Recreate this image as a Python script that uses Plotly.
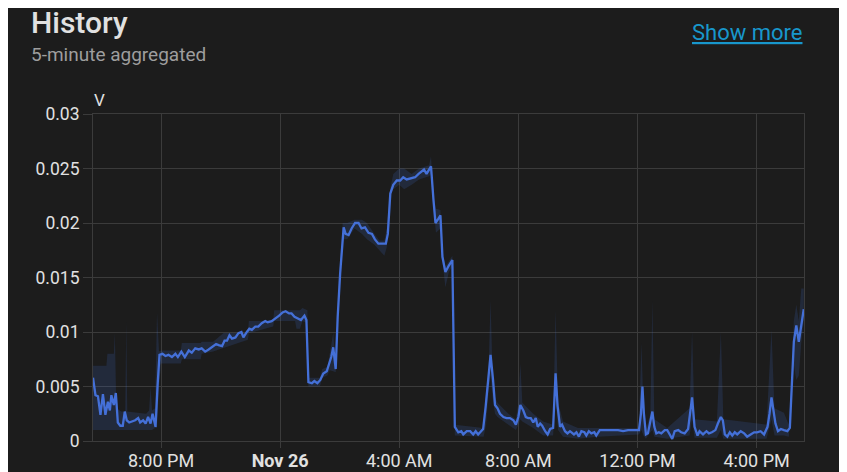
import plotly.graph_objects as go

# ---------------- data ----------------
D1 = "2024-11-25 "
D2 = "2024-11-26 "
times_day1 = ["17:43","17:48","17:53","17:58","18:03","18:08","18:13","18:17","18:20","18:25","18:29","18:33",
              "18:38","18:43","18:47","18:51","18:56","19:02","19:08","19:14","19:18","19:24","19:29","19:34",
              "19:39","19:43","19:49","19:53","19:57","20:03","20:09","20:15","20:22","20:29","20:34","20:41",
              "20:48","20:56","21:02","21:09","21:16","21:22","21:29","21:36","21:43","21:51","21:56","22:03",
              "22:08","22:13","22:18","22:23","22:30","22:36","22:42","22:46","22:53","22:58","23:03","23:10",
              "23:16","23:23","23:30","23:35","23:43","23:50","23:58"]
values_day1 = [0.0058,0.0042,0.0041,0.0024,0.0043,0.0024,0.0036,0.0028,0.0042,0.0033,0.0044,0.0017,
               0.0014,0.0014,0.0027,0.0019,0.0017,0.0018,0.0019,0.0021,0.0017,0.0019,0.0016,0.0022,
               0.0016,0.0025,0.0013,0.0050,0.0079,0.0080,0.0078,0.0079,0.0077,0.0080,0.0077,0.0082,
               0.0077,0.0083,0.0081,0.0085,0.0084,0.0085,0.0082,0.0084,0.0086,0.0089,0.0088,0.0087,
               0.0092,0.0092,0.0097,0.0094,0.0095,0.0099,0.0100,0.0095,0.0100,0.0103,0.0102,0.0105,
               0.0105,0.0108,0.0110,0.0109,0.0110,0.0112,0.0115]
times_day2 = ["00:05","00:11","00:18","00:23","00:29","00:36","00:42","00:49","00:53","00:57","01:04","01:09",
              "01:15","01:21","01:27","01:34","01:38","01:43","01:47","01:52","01:56","02:01","02:08","02:12",
              "02:18","02:24","02:31","02:38","02:44","02:51","02:58","03:05","03:11","03:18","03:25","03:33",
              "03:37","03:42","03:48","03:55","04:02","04:08","04:15","04:24","04:32","04:39","04:45","04:50",
              "04:55","05:00","05:04","05:09","05:13","05:19","05:23","05:27","05:33","05:40","05:47","05:52",
              "05:59","06:05","06:09","06:16","06:23","06:29","06:34","06:39","06:45","06:49","06:54","06:59",
              "07:04","07:09","07:13","07:18","07:23","07:30","07:36","07:43","07:50","07:55","08:00","08:04",
              "08:10","08:15","08:20","08:25","08:30","08:35","08:39","08:44","08:48","08:54","08:59","09:04",
              "09:10","09:15","09:19","09:24","09:28","09:34","09:39","09:44","09:52","09:57","10:02","10:07",
              "10:13","10:17","10:22","10:27","10:33","10:37","10:44","10:54","11:08","11:21","11:31","11:41",
              "11:55","12:03","12:07","12:10","12:13","12:17","12:21","12:26","12:30","12:34","12:38","12:43",
              "12:48","12:55","13:00","13:05","13:10","13:15","13:22","13:28","13:35","13:42","13:46","13:50",
              "13:55","14:01","14:05","14:12","14:19","14:24","14:30","14:37","14:42","14:48","14:52","14:56",
              "15:01","15:06","15:11","15:16","15:21","15:28","15:35","15:41","15:48","15:55","16:01","16:08",
              "16:15","16:22","16:26","16:30","16:34","16:38","16:43","16:49","16:55","17:02","17:07","17:11",
              "17:15","17:20","17:25","17:30","17:35"]
values_day2 = [0.0118,0.0119,0.0117,0.0117,0.0114,0.0112,0.0111,0.0115,0.0111,0.0054,0.0053,0.0055,
               0.0053,0.0056,0.0062,0.0064,0.0070,0.0077,0.0086,0.0066,0.0114,0.0154,0.0196,0.0190,
               0.0189,0.0195,0.0200,0.0200,0.0195,0.0196,0.0191,0.0190,0.0185,0.0181,0.0181,0.0181,
               0.0190,0.0227,0.0235,0.0239,0.0239,0.0242,0.0240,0.0241,0.0242,0.0245,0.0247,0.0249,
               0.0245,0.0249,0.0252,0.0221,0.0200,0.0204,0.0207,0.0169,0.0155,0.0161,0.0166,0.0013,
               0.0008,0.0009,0.0006,0.0009,0.0009,0.0006,0.0009,0.0006,0.0009,0.0011,0.0031,0.0056,
               0.0079,0.0056,0.0033,0.0030,0.0025,0.0022,0.0021,0.0021,0.0019,0.0015,0.0022,0.0033,
               0.0028,0.0022,0.0021,0.0021,0.0017,0.0021,0.0013,0.0016,0.0014,0.0009,0.0006,0.0011,
               0.0012,0.0062,0.0032,0.0013,0.0015,0.0009,0.0007,0.0009,0.0006,0.0008,0.0004,0.0009,
               0.0008,0.0005,0.0009,0.0007,0.0008,0.0005,0.0010,0.0010,0.0010,0.0010,0.0009,0.0010,
               0.0010,0.0010,0.0025,0.0050,0.0025,0.0006,0.0007,0.0019,0.0027,0.0013,0.0007,0.0008,
               0.0007,0.0010,0.0010,0.0006,0.0002,0.0009,0.0010,0.0008,0.0007,0.0011,0.0028,0.0040,
               0.0013,0.0005,0.0009,0.0006,0.0009,0.0007,0.0008,0.0010,0.0016,0.0022,0.0019,0.0006,
               0.0004,0.0008,0.0005,0.0008,0.0006,0.0009,0.0007,0.0004,0.0006,0.0008,0.0008,0.0009,
               0.0006,0.0013,0.0025,0.0040,0.0028,0.0016,0.0009,0.0011,0.0010,0.0009,0.0012,0.0050,
               0.0091,0.0106,0.0091,0.0106,0.0121]

# min / max band of each aggregation bucket
band_times_day1 = ["17:43","18:10","18:12","18:25","18:27","18:30","18:40","18:48","18:50","18:52","19:30","19:36",
                   "19:39","19:42","19:48","19:52","19:56","20:00","20:40","20:42","21:20","21:22","21:45","22:06",
                   "22:55","22:57","23:46","23:48"]
band_low_day1 = [0.0010,0.0010,0.0010,0.0010,0.0010,0.0010,0.0010,0.0010,0.0010,0.0010,0.0010,0.0010,
                 0.0010,0.0010,0.0012,0.0012,0.0050,0.0071,0.0071,0.0075,0.0075,0.0080,0.0082,0.0085,
                 0.0093,0.0099,0.0105,0.0110]
band_high_day1 = [0.0069,0.0069,0.0080,0.0080,0.0099,0.0030,0.0027,0.0027,0.0110,0.0027,0.0025,0.0028,
                  0.0050,0.0028,0.0030,0.0118,0.0082,0.0083,0.0083,0.0090,0.0090,0.0091,0.0091,0.0099,
                  0.0099,0.0110,0.0110,0.0120]
band_times_day2 = ["00:30","00:33","00:40","00:45","00:55","00:57","01:20","01:25","01:35","01:40","01:47","01:52",
                   "01:56","02:01","02:06","02:15","02:30","02:45","02:55","03:10","03:20","03:30","03:35","03:42",
                   "03:48","04:00","04:10","04:25","04:40","05:00","05:04","05:09","05:14","05:23","05:27","05:33",
                   "05:40","05:47","05:52","06:50","06:55","07:00","07:04","07:08","07:13","07:18","07:40","07:55",
                   "08:00","08:04","08:08","08:30","08:50","09:10","09:15","09:20","09:30","10:00","10:40","12:03",
                   "12:08","12:12","12:17","12:26","12:30","12:34","13:00","13:45","13:50","13:55","14:40","14:48",
                   "14:53","16:20","16:30","16:36","16:55","17:05","17:11","17:15","17:20","17:25","17:30","17:35"]
band_low_day2 = [0.0110,0.0103,0.0103,0.0110,0.0108,0.0050,0.0050,0.0058,0.0060,0.0065,0.0064,0.0063,
                 0.0100,0.0150,0.0185,0.0185,0.0195,0.0190,0.0185,0.0180,0.0175,0.0170,0.0178,0.0225,
                 0.0231,0.0235,0.0231,0.0235,0.0240,0.0243,0.0245,0.0213,0.0191,0.0195,0.0165,0.0141,
                 0.0155,0.0160,0.0005,0.0004,0.0015,0.0045,0.0060,0.0040,0.0025,0.0022,0.0015,0.0010,
                 0.0015,0.0020,0.0018,0.0012,0.0005,0.0005,0.0040,0.0010,0.0004,0.0002,0.0004,0.0006,
                 0.0010,0.0005,0.0002,0.0008,0.0010,0.0004,0.0002,0.0005,0.0020,0.0003,0.0003,0.0010,
                 0.0002,0.0002,0.0020,0.0005,0.0005,0.0004,0.0040,0.0070,0.0056,0.0060,0.0090,0.0110]
band_high_day2 = [0.0120,0.0120,0.0120,0.0122,0.0120,0.0058,0.0058,0.0066,0.0068,0.0080,0.0099,0.0070,
                  0.0120,0.0160,0.0200,0.0200,0.0203,0.0203,0.0200,0.0190,0.0184,0.0184,0.0195,0.0232,
                  0.0245,0.0250,0.0250,0.0245,0.0250,0.0253,0.0261,0.0225,0.0213,0.0212,0.0175,0.0160,
                  0.0165,0.0170,0.0015,0.0012,0.0045,0.0065,0.0129,0.0062,0.0040,0.0035,0.0025,0.0020,
                  0.0035,0.0071,0.0035,0.0025,0.0018,0.0015,0.0120,0.0035,0.0018,0.0012,0.0012,0.0012,
                  0.0090,0.0030,0.0010,0.0025,0.0129,0.0020,0.0012,0.0030,0.0101,0.0020,0.0018,0.0100,
                  0.0020,0.0015,0.0102,0.0030,0.0026,0.0015,0.0060,0.0110,0.0125,0.0110,0.0140,0.0140]

y_tick_values = [0, 0.005, 0.01, 0.015, 0.02, 0.025, 0.03]
y_tick_labels = ["0", "0.005", "0.01", "0.015", "0.02", "0.025", "0.03"]
x_tick_values = [D1 + "20:00", D2 + "00:00", D2 + "04:00", D2 + "08:00", D2 + "12:00", D2 + "16:00"]
x_tick_labels = ["8:00 PM", "<b>Nov 26</b>", "4:00 AM", "8:00 AM", "12:00 PM", "4:00 PM"]
x_range = [D1 + "17:43", D2 + "17:35:30"]

times = [D1 + t for t in times_day1] + [D2 + t for t in times_day2]
values = values_day1 + values_day2
band_times = [D1 + t for t in band_times_day1] + [D2 + t for t in band_times_day2]
band_low = band_low_day1 + band_low_day2
band_high = band_high_day1 + band_high_day2

# ---------------- figure ----------------
W, H = 847, 472
L, R, T, B = 85, 51, 106, 39

# target on-screen plot area (pixels) used to place the header texts
SX0, SX1, SY0, SY1 = 93.0, 804.0, 114.0, 441.0

def px(x):
    return (x - SX0) / (SX1 - SX0)

def py(y):
    return (SY1 - y) / (SY1 - SY0)

BG = "#1c1c1c"
GRID = "#3b3b3b"
LINE = "#4470d8"
TXT = "#e1e1e1"
FONT = "Roboto"

fig = go.Figure()
fig.add_trace(go.Scatter(
    x=band_times + band_times[::-1],
    y=band_high + band_low[::-1],
    fill="toself", fillcolor="rgba(68,112,214,0.17)",
    line=dict(width=0), mode="lines", hoverinfo="skip", showlegend=False))
fig.add_trace(go.Scatter(
    x=times, y=values, mode="lines",
    line=dict(color=LINE, width=2.3), showlegend=False))

fig.update_layout(
    width=W, height=H,
    margin=dict(l=L, r=R, t=T, b=B, pad=0),
    paper_bgcolor=BG, plot_bgcolor=BG,
    font=dict(family=FONT, color=TXT, size=17),
    xaxis=dict(range=x_range, tickvals=x_tick_values, ticktext=x_tick_labels,
               automargin=False,
               showgrid=True, gridcolor=GRID, gridwidth=1,
               showline=True, linecolor=GRID, linewidth=1, mirror=True,
               ticks="outside", ticklen=6, tickcolor=GRID, ticklabelstandoff=-3,
               tickfont=dict(family=FONT, size=18, color=TXT), zeroline=False),
    yaxis=dict(range=[0, 0.03], tickvals=y_tick_values, ticktext=y_tick_labels,
               automargin=False,
               showgrid=True, gridcolor=GRID, gridwidth=1,
               showline=True, linecolor=GRID, linewidth=1, mirror=True,
               ticks="outside", ticklen=9, tickcolor=GRID,
               tickfont=dict(family=FONT, size=17.5, color=TXT), zeroline=False),
)

ann = [
    dict(text="History", x=px(29), y=py(22), xanchor="left", yanchor="middle",
         font=dict(family=FONT, size=30, color=TXT, weight=500)),
    dict(text="5-minute aggregated", x=px(29), y=py(55), xanchor="left", yanchor="middle",
         font=dict(family=FONT, size=19, color="#9e9e9e")),
    dict(text="<u>Show more</u>", x=px(804), y=py(32), xanchor="right", yanchor="middle",
         font=dict(family=FONT, size=22, color="#1897cc")),
    dict(text="V", x=px(92), y=py(100), xanchor="left", yanchor="middle",
         font=dict(family=FONT, size=17, color=TXT)),
]
for a in ann:
    a.update(xref="paper", yref="paper", showarrow=False)
fig.update_layout(annotations=ann)

fig.write_html("out.html")
